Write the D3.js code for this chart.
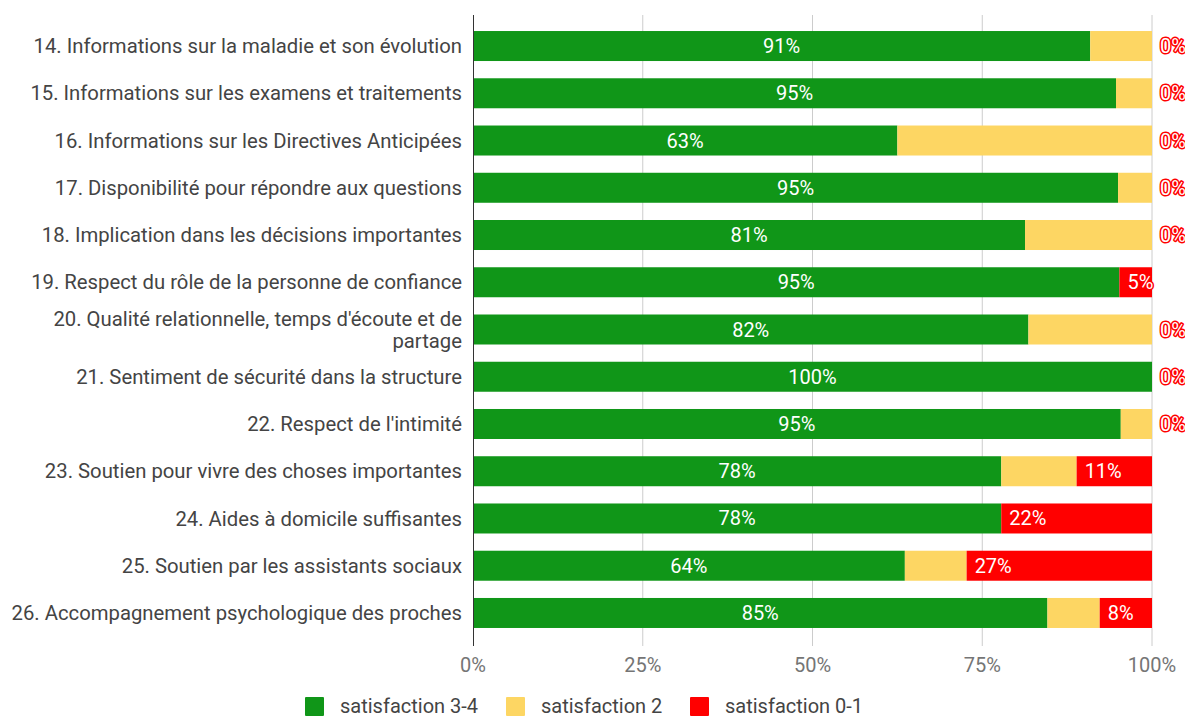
<!DOCTYPE html>
<html><head><meta charset="utf-8">
<script src="https://cdn.jsdelivr.net/npm/d3@7"></script>
<style>body{margin:0;background:#fff;font-family:Roboto,sans-serif}</style>
</head><body><svg id="c" width="1185" height="717"></svg>
<script>
const categories = [
 "14. Informations sur la maladie et son évolution",
 "15. Informations sur les examens et traitements",
 "16. Informations sur les Directives Anticipées",
 "17. Disponibilité pour répondre aux questions",
 "18. Implication dans les décisions importantes",
 "19. Respect du rôle de la personne de confiance",
 "20. Qualité relationnelle, temps d'écoute et de partage",
 "21. Sentiment de sécurité dans la structure",
 "22. Respect de l'intimité",
 "23. Soutien pour vivre des choses importantes",
 "24. Aides à domicile suffisantes",
 "25. Soutien par les assistants sociaux",
 "26. Accompagnement psychologique des proches"
];
const sat34 = [90.9, 94.7, 62.5, 95.0, 81.3, 95.2, 81.8, 100, 95.4, 77.8, 77.8, 63.6, 84.6];
const sat2  = [9.1, 5.3, 37.5, 5.0, 18.7, 0, 18.2, 0, 4.6, 11.1, 0, 9.1, 7.7];
const sat01 = [0, 0, 0, 0, 0, 4.8, 0, 0, 0, 11.1, 22.2, 27.3, 7.7];
const seriesNames = ["satisfaction 3-4", "satisfaction 2", "satisfaction 0-1"];
const colors = ["#109618", "#fdd663", "#ff0000"];
const ticks = [0, 25, 50, 75, 100];

const svg = d3.select("#c");
const x = d3.scaleLinear().domain([0, 100]).range([473, 1152]);
const y = d3.scaleBand().domain(categories).range([22.4, 636.6]).paddingInner(0.365).paddingOuter(0.1825);

// gridlines
svg.append("g").selectAll("line").data(ticks.slice(1)).join("line")
  .attr("x1", d => x(d)).attr("x2", d => x(d)).attr("y1", 15).attr("y2", 646)
  .attr("stroke", "#cccccc").attr("stroke-width", 1);

const series = [sat34, sat2, sat01];
const rows = categories.map((c, i) => {
  let acc = 0;
  return series.map((s, k) => { const r = {cat: c, k, v: s[i], x0: acc}; acc += s[i]; r.x1 = acc; return r; });
});

const g = svg.append("g");
rows.forEach(segs => {
  segs.forEach(s => {
    if (s.v > 0) {
      g.append("rect").attr("x", x(s.x0)).attr("y", y(s.cat))
        .attr("width", x(s.x1) - x(s.x0)).attr("height", y.bandwidth())
        .attr("fill", colors[s.k]);
    }
  });
});

// axis line
svg.append("line").attr("x1", x(0) + 0.5).attr("x2", x(0) + 0.5).attr("y1", 15).attr("y2", 646)
  .attr("stroke", "#333").attr("stroke-width", 1);

// labels
const lg = svg.append("g").attr("font-family", "Roboto").attr("font-size", 20);
rows.forEach(segs => {
  const cy = y(segs[0].cat) + y.bandwidth() / 2;
  const s0 = segs[0];
  if (s0.v > 0) {
    lg.append("text").attr("x", (x(s0.x0) + x(s0.x1)) / 2).attr("y", cy).attr("dy", "0.35em")
      .attr("text-anchor", "middle").attr("fill", "#fff").text(Math.round(s0.v) + "%");
  }
  const s2 = segs[2];
  lg.append("text").attr("x", x(s2.x0) + 8).attr("y", cy).attr("dy", "0.35em")
    .attr("text-anchor", "start").attr("fill", "#fff")
    .attr("stroke", colors[2]).attr("stroke-width", 3).attr("paint-order", "stroke")
    .attr("stroke-linejoin", "round")
    .text(Math.round(s2.v) + "%");
});

// category labels
const cg = svg.append("g").attr("font-family", "Roboto").attr("font-size", 20.3).attr("fill", "#444");
categories.forEach(c => {
  const cy = y(c) + y.bandwidth() / 2;
  const t = cg.append("text").attr("x", 462).attr("text-anchor", "end");
  if (c.startsWith("20.")) {
    t.append("tspan").attr("x", 462).attr("y", cy - 11).attr("dy", "0.35em").text("20. Qualité relationnelle, temps d'écoute et de");
    t.append("tspan").attr("x", 462).attr("y", cy + 11).attr("dy", "0.35em").text("partage");
  } else {
    t.attr("y", cy).attr("dy", "0.35em").text(c);
  }
});

// x axis ticks
svg.append("g").attr("font-family", "Roboto").attr("font-size", 20).attr("fill", "#757575")
  .selectAll("text").data(ticks).join("text")
  .attr("x", d => x(d)).attr("y", 672).attr("text-anchor", "middle").text(d => d + "%");

// legend
const legX = [305, 506, 690];
const leg = svg.append("g").attr("font-family", "Roboto").attr("font-size", 20).attr("fill", "#444");
seriesNames.forEach((n, i) => {
  leg.append("rect").attr("x", legX[i]).attr("y", 697).attr("width", 19).attr("height", 19).attr("rx", 1).attr("fill", colors[i]);
  leg.append("text").attr("x", legX[i] + 35).attr("y", 713).text(n);
});
</script></body></html>
